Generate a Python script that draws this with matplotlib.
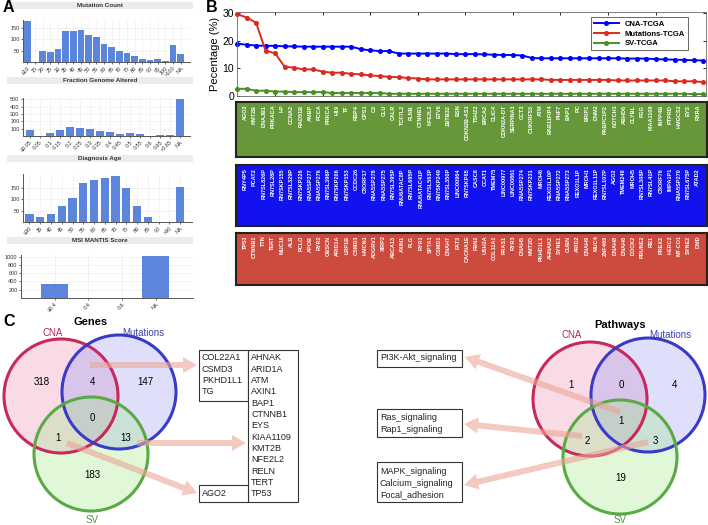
import matplotlib
matplotlib.use('Agg')
import matplotlib.pyplot as plt
from matplotlib.patches import Circle, Rectangle
import numpy as np

plt.rcParams['font.family'] = ['Liberation Sans', 'DejaVu Sans']

W, H = 708, 525

# ---------------- panel A data ----------------
mut_labels = ['≤10', '15', '20', '25', '30', '35', '40', '45', '50', '55', '60', '65', '70',
              '75', '80', '85', '90', '95', '100', '>100', 'NA']
mut_counts = [180, 0, 48, 45, 58, 138, 138, 140, 120, 110, 80, 66, 48, 38, 28, 12, 10, 15, 6, 75, 35]

fga_labels = ['≤0.05', '0.05', '0.1', '0.15', '0.2', '0.25', '0.3', '0.35', '0.4', '0.45',
              '0.5', '0.55', '0.6', '0.65', '>0.65', 'NA']
fga_counts = [88, 0, 35, 80, 120, 112, 100, 65, 60, 30, 35, 22, 3, 10, 20, 510]

age_labels = ['≤30', '35', '40', '45', '50', '55', '60', '65', '70', '75', '80', '85', '90', '>90', 'NA']
age_counts = [34, 22, 33, 72, 103, 170, 185, 193, 203, 148, 70, 22, 2, 0, 153]

msi_labels = ['≤0.4', '0.4', '0.6', 'NA']
msi_counts = [350, 0, 0, 1015]

# ---------------- panel B data ----------------
cna_pct = [18.9, 18.5, 18.2, 18.1, 18.1, 17.9, 17.9, 17.8, 17.8, 17.8, 17.8, 17.8, 17.8,
           16.9, 16.5, 16.2, 16.2, 15.3, 15.3, 15.3, 15.3, 15.3, 15.3, 15.1, 15.1, 15.1,
           15.0, 14.9, 14.8, 14.8, 14.6, 13.7, 13.6, 13.6, 13.6, 13.6, 13.6, 13.6, 13.6,
           13.6, 13.6, 13.5, 13.5, 13.5, 13.3, 13.2, 13.1, 13.0, 12.9, 12.8]
mut_pct = [29.6, 28.3, 26.5, 16.4, 15.4, 10.6, 10.2, 9.6, 9.6, 8.8, 8.4, 8.4, 8.0, 7.8,
           7.4, 7.2, 6.9, 6.8, 6.5, 6.3, 6.0, 6.0, 6.0, 6.0, 6.0, 6.0, 6.0, 6.0, 6.0, 6.0,
           6.0, 6.0, 6.0, 5.8, 5.8, 5.8, 5.8, 5.8, 5.8, 5.8, 5.6, 5.6, 5.6, 5.6, 5.6, 5.6,
           5.3, 5.3, 5.3, 5.0]
sv_pct = [2.6, 2.6, 1.9, 1.9, 1.6, 1.6, 1.4, 1.4, 1.4, 1.4, 1.1, 1.1, 1.1, 1.1, 1.1, 1.1,
          0.8, 0.8, 0.8, 0.8, 0.8, 0.8, 0.8, 0.8, 0.8, 0.8, 0.8, 0.8, 0.8, 0.8, 0.8, 0.8,
          0.8, 0.8, 0.8, 0.8, 0.8, 0.8, 0.8, 0.8, 0.8, 0.8, 0.8, 0.8, 0.8, 0.8, 0.8, 0.8,
          0.7, 0.7]

sv_genes = ['AGO2', 'KMT2B', 'DNAJB1', 'PRKACA', 'HP', 'CCNA2', 'RAD51B', 'AMBP', 'PCCA', 'PRKCA',
            'H19', 'TF', 'RBP4', 'CPS1', 'C3', 'CLU', 'CALR', 'TCF7L2', 'FLNB', 'CTNNB1',
            'NFE2L2', 'ETV6', 'ZBTB32', 'BSN', 'CDKN2B-AS1', 'TSHZ2', 'BRCA2', 'CLIC4',
            'CDKN2A-DT', 'SERPINA1', 'CCT3', 'C19ORF53', 'ATM', 'RAB11FIP4', 'PHF7', 'BAP1',
            'PC', 'BRIP1', 'DNM2', 'PABPC1P2', 'NOTCH1', 'ABHD6', 'CLYBL', 'FGG', 'KIAA1109',
            'INPP4B', 'PTPRD', 'HMGCS2', 'EYS', 'RXRA']
cna_genes = ['RNY4P5', 'PCAT2', 'RN7SL826P', 'RN7SL28P', 'RN7SKP155', 'RN7SL329P', 'RN7SKP226',
             'RNA5SP277', 'RNA5SP276', 'RN7SL396P', 'RN7SKP206', 'RN7SKP153', 'CCDC26',
             'C8ORF17', 'RNA5SP278', 'RNA5SP275', 'RN7SL395P', 'RNU6ATAC8P', 'RN7SL695P',
             'RNU6ATAC41P', 'RN7SL563P', 'RN7SKP249', 'RN7SL350P', 'LINC00964', 'RN7SKP65',
             'CASC8', 'CCAT1', 'TMEM75', 'LINC00977', 'LINC00861', 'RNA5SP274', 'RN7SKP231',
             'MROH6', 'REXO1L10P', 'RNA5SP272', 'RNA5SP273', 'REXO1L1P', 'MROH1', 'REXO1L11P',
             'RN7SL107P', 'AGO2', 'TMEM249', 'MROH5', 'RN7SL308P', 'RN7SL41P', 'C8ORF76',
             'IMPA1P1', 'RNA5SP270', 'RN7SL675P', 'ATAD2']
mutation_genes = ['TP53', 'CTNNB1', 'TTN', 'TERT', 'MUC16', 'ALB', 'PCLO', 'APOB', 'RYR2', 'OBSCN',
                  'ARID1A', 'LRP1B', 'CSMD3', 'HMCN1', 'ADGRV1', 'XIRP2', 'ABCA13', 'AXIN1', 'FLG',
                  'RYR1', 'SPTA1', 'CSMD1', 'DNAH7', 'FAT3', 'CACNA1E', 'FBN2', 'USH2A', 'COL11A1',
                  'FRAS1', 'RYR3', 'DNAH5', 'KMT2D', 'PKHD1L1', 'AHNAK2', 'SYNE1', 'CUBN', 'ARID2',
                  'DNAH9', 'MUC4', 'ZNF469', 'DNAH8', 'DNAH6', 'DOCK2', 'PRUNE2', 'RB1', 'PREX2',
                  'HERC2', 'MT-CO1', 'SYNE2', 'DMD']

# ---------------- panel C data ----------------
gene_counts = [318, 4, 147, 0, 1, 13, 183]   # CNA, CNA&Mut, Mut, all, CNA&SV, Mut&SV, SV
path_counts = [1, 0, 4, 1, 2, 3, 19]
cna_mut_genes = ['COL22A1', 'CSMD3', 'PKHD1L1', 'TG']
mut_sv_genes = ['AHNAK', 'ARID1A', 'ATM', 'AXIN1', 'BAP1', 'CTNNB1', 'EYS', 'KIAA1109',
                'KMT2B', 'NFE2L2', 'RELN', 'TERT', 'TP53']
cna_sv_genes = ['AGO2']
all_paths = ['PI3K-Akt_signaling']
cna_sv_paths = ['Ras_signaling', 'Rap1_signaling']
mut_sv_paths = ['MAPK_signaling', 'Calcium_signaling', 'Focal_adhesion']

fig = plt.figure(figsize=(W / 100, H / 100), dpi=100)


def px_axes(x0, y0, x1, y1):
    return fig.add_axes([x0 / W, 1 - y1 / H, (x1 - x0) / W, (y1 - y0) / H])


def hist_panel(band, rect, title, labels, values, xlim, ylim, yticks, width):
    b = px_axes(*band)
    b.set_facecolor('#ececec')
    b.set_xticks([])
    b.set_yticks([])
    for s in b.spines.values():
        s.set_visible(False)
    b.text(0.5, 0.5, title, ha='center', va='center', fontsize=4.5, fontweight='bold',
           color='#333333', transform=b.transAxes)

    ax = px_axes(*rect)
    x = np.arange(len(values))
    ax.bar(x, values, width=width, color='#5b86dc', zorder=3)
    ax.set_xticks(x)
    ax.set_xticklabels(labels, rotation=45, ha='right', rotation_mode='anchor')
    ax.set_yticks(yticks)
    ax.set_xlim(*xlim)
    ax.set_ylim(*ylim)
    ax.grid(True, color='#e8e8e8', lw=0.5, ls='--', zorder=0)
    for s in ['top', 'right']:
        ax.spines[s].set_visible(False)
    for s in ['left', 'bottom']:
        ax.spines[s].set_color('#555555')
        ax.spines[s].set_linewidth(0.7)
    ax.tick_params(length=1.5, width=0.5, pad=1, labelsize=4, colors='#333333')


hist_panel((7, 2, 193, 9), (23, 20, 190, 62), 'Mutation Count', mut_labels, mut_counts,
           (-0.56, 21.2), (0, 185), [50, 100, 150], 0.86)
hist_panel((7, 77, 193, 84), (23, 98, 190, 136), 'Fraction Genome Altered', fga_labels, fga_counts,
           (-0.7, 16.0), (0, 520), [100, 200, 300, 400, 500], 0.74)
hist_panel((7, 155, 193, 162), (23, 174, 192, 222), 'Diagnosis Age', age_labels, age_counts,
           (-0.6, 15.1), (0, 210), [50, 100, 150], 0.77)
hist_panel((7, 237, 193, 244), (21, 255, 193, 298), 'MSI MANTIS Score', msi_labels, msi_counts,
           (-1.0, 4.1), (0, 1040), [200, 400, 600, 800, 1000], 0.8)

# ---------------- panel B: line chart ----------------
axb = px_axes(237, 12, 706, 96)
idx = np.arange(1, len(cna_pct) + 1)
axb.plot(idx, cna_pct, '-o', color='#0000ff', ms=2.6, lw=1.4, label='CNA-TCGA', clip_on=False)
axb.plot(idx, mut_pct, '-o', color='#dd2a1e', ms=2.6, lw=1.4, label='Mutations-TCGA', clip_on=False)
axb.plot(idx, sv_pct, '-o', color='#4a9020', ms=2.6, lw=1.4, label='SV-TCGA', clip_on=False)
axb.set_xlim(1, 50.3)
axb.set_ylim(0, 30.3)
axb.set_xticks(np.arange(5, 50, 5))
axb.set_xticklabels([])
axb.set_yticks([0, 10, 20, 30])
axb.tick_params(direction='in', top=True, right=True, length=2.5, width=0.6, labelsize=7.5, pad=2)
for s in axb.spines.values():
    s.set_linewidth(0.6)
    s.set_color('#666666')
axb.set_ylabel('Pecentage (%)', fontsize=8, labelpad=2)
leg = axb.legend(loc='upper right', bbox_to_anchor=(0.97, 0.98), fancybox=False,
                 edgecolor='#222222', handlelength=3.2, borderpad=0.4, labelspacing=0.3,
                 prop={'weight': 'bold', 'size': 5.5})
leg.get_frame().set_linewidth(0.6)


def gene_box(y0, y1, color, genes):
    ax = px_axes(236, y0, 707, y1)
    ax.set_facecolor(color)
    ax.set_xlim(0, 51)
    ax.set_ylim(0, 1)
    ax.set_xticks([])
    ax.set_yticks([])
    for s in ax.spines.values():
        s.set_color('#222222')
        s.set_linewidth(1.5)
    for i, g in enumerate(genes):
        ax.text(i + 1, 0.95, g, rotation=90, ha='center', va='top', color='white',
                fontsize=4, fontweight='bold')


gene_box(102, 157, '#66983a', sv_genes)
gene_box(165, 226, '#1212ee', cna_genes)
gene_box(233, 285, '#cc4a3e', mutation_genes)

# ---------------- panel C: Venn diagrams ----------------
axc = fig.add_axes([0, 0, 1, 1])
axc.set_xlim(0, W)
axc.set_ylim(H, 0)
axc.axis('off')

for lab, (x, y) in zip(['A', 'B', 'C'], [(3, 7), (206, 7), (3, 322)]):
    axc.text(x, y, lab, fontsize=11.5, fontweight='bold', va='center', ha='left')

circle_style = [('#c8285a', (0.93, 0.50, 0.66, 0.28)),
                ('#3a3ac8', (0.55, 0.55, 0.96, 0.28)),
                ('#5aa846', (0.60, 0.90, 0.50, 0.30))]
offsets = [(-30, -18), (28, -22), (0, 40)]
region_off = [(-49, -32), (1, -32), (54, -32), (1, 4), (-33, 24), (35, 24), (1, 61)]
arrow_kw = dict(width=6, head_width=16, head_length=14, length_includes_head=True,
                color='#eba596', alpha=0.6, lw=0, zorder=5)


def venn(cx, cy, counts, title, name_pos):
    for (ec, fc), (dx, dy) in zip(circle_style, offsets):
        axc.add_patch(Circle((cx + dx, cy + dy), 57, facecolor=fc, edgecolor='none', zorder=1))
        axc.add_patch(Circle((cx + dx, cy + dy), 57, facecolor='none', edgecolor=ec, lw=2.2, zorder=2))
    for n, (dx, dy) in zip(counts, region_off):
        axc.text(cx + dx, cy + dy, str(n), ha='center', va='center', fontsize=7, zorder=6)
    axc.text(cx, cy - 92, title, ha='center', va='center', fontsize=8, fontweight='bold')
    for (name, col), (dx, dy) in zip([('CNA', '#b02a55'), ('Mutations', '#4040b0'), ('SV', '#4a9a3a')],
                                     name_pos):
        axc.text(cx + dx, cy + dy, name, ha='center', va='center', fontsize=7, color=col)


def list_box(x0, y0, x1, y1, items, first_y):
    axc.add_patch(Rectangle((x0, y0), x1 - x0, y1 - y0, facecolor='white', edgecolor='#333333',
                            lw=0.8, zorder=3))
    for k, t in enumerate(items):
        axc.text(x0 + 3, first_y + 11.3 * k, t, ha='left', va='center', fontsize=6.5,
                 color='#222222', zorder=4)


venn(91, 414, gene_counts, 'Genes', [(-38, -81), (52, -81), (1, 106)])
list_box(199, 350, 248, 401, cna_mut_genes, 358)
list_box(248, 350, 298, 502, mut_sv_genes, 358)
list_box(199, 485, 248, 502, cna_sv_genes, 494)
axc.arrow(90, 365, 107, 0, **arrow_kw)
axc.arrow(137, 443, 109, 0, **arrow_kw)
axc.arrow(67, 443, 130, 50, **arrow_kw)

venn(620, 417, path_counts, 'Pathways', [(-48, -82), (50, -82), (0, 103)])
list_box(377, 350, 462, 367, all_paths, 358)
list_box(377, 409, 462, 437, cna_sv_paths, 418)
list_box(377, 462, 462, 502, mut_sv_paths, 472)
axc.arrow(620, 412, -155, -55, **arrow_kw)
axc.arrow(582, 436, -118, -12, **arrow_kw)
axc.arrow(648, 442, -184, 43, **arrow_kw)

fig.savefig('out.png', dpi=100)
